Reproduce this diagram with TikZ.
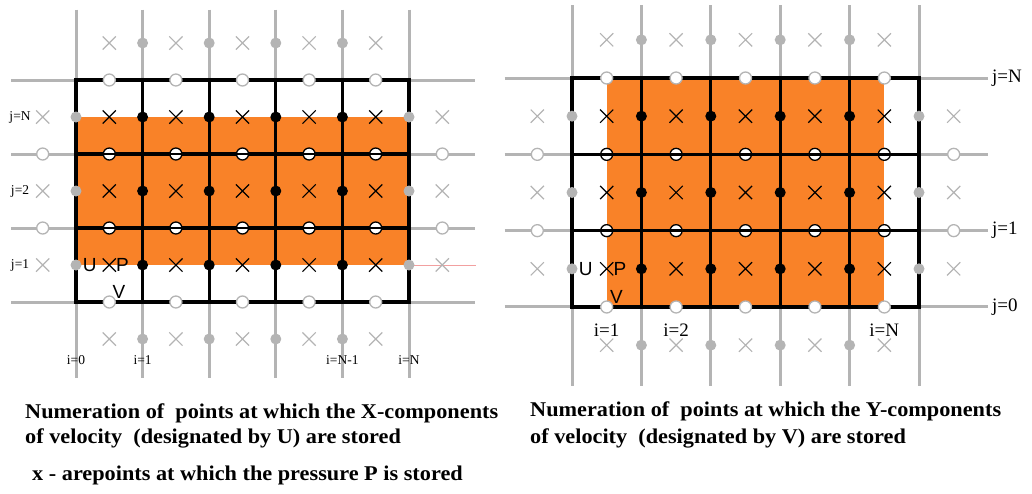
\documentclass[tikz,border=0pt]{standalone}
\usepackage{fontspec}
\setmainfont{Liberation Serif}
\newfontfamily\letterfont{Liberation Sans}
\newfontfamily\captionfont[FakeStretch=1.06]{Liberation Serif}
\usetikzlibrary{shapes.misc, positioning}
\definecolor{meshgray}{HTML}{B4B4B4}
\definecolor{cellorange}{HTML}{F98228}
\definecolor{faintred}{HTML}{F2A0A0}
\tikzset{
  meshline/.style={meshgray, line width=3pt},
  wallline/.style={black, line width=3.3pt},
  pcross/.style={cross out, draw=#1, line width=1.2pt, minimum size=12pt, inner sep=0pt},
  udot/.style={circle, fill=#1, inner sep=0pt, minimum size=11pt},
  vring/.style={circle, draw=meshgray, fill=white, line width=1.3pt,
                inner sep=0pt, minimum size=12pt},
  vringdark/.style={vring, draw=black,
                path picture={\draw[line width=2.8pt]
                  (path picture bounding box.west) -- (path picture bounding box.east);}},
  letter/.style={font=\letterfont\fontsize{19}{21}\selectfont, inner sep=0pt},
  caption/.style={font=\captionfont\fontsize{21}{25}\selectfont\bfseries, inner sep=0pt, anchor=base west},
}
% staggered mesh, the same for both pictures; #1 is the prefix of the node names
\newcommand{\stagmesh}[1]{%
  \foreach \k in {0,...,5} \draw[meshline] (\k,-0.95) -- (\k,4.03);
  \foreach \k in {0,...,3} \draw[meshline] (-0.97,\k) -- (5.99,\k);
  \draw[wallline] (0,0) rectangle (5,3);
  \foreach \k in {1,...,4} \draw[wallline] (\k,0) -- (\k,3);
  \foreach \k in {1,2} \draw[wallline] (0,\k) -- (5,\k);
  % U points
  \foreach \i in {1,...,4} \foreach \j in {1,2,3}
    \node[udot=black] (#1u\i\j) at (\i,\j-0.5) {};
  \foreach \i in {1,...,4} \foreach \j in {0,4}
    \node[udot=meshgray] (#1u\i\j) at (\i,\j-0.5) {};
  \foreach \i in {0,5} \foreach \j in {1,2,3}
    \node[udot=meshgray] (#1u\i\j) at (\i,\j-0.5) {};
  % P points
  \foreach \c in {1,...,5} \foreach \r in {1,2,3}
    \node[pcross=black] (#1p\c\r) at (\c-0.5,\r-0.5) {};
  \foreach \c in {1,...,5} \foreach \r in {0,4}
    \node[pcross=meshgray] (#1p\c\r) at (\c-0.5,\r-0.5) {};
  \foreach \c in {0,6} \foreach \r in {1,2,3}
    \node[pcross=meshgray] (#1p\c\r) at (\c-0.5,\r-0.5) {};
  % V points
  \foreach \c in {1,...,5} \foreach \j in {1,2}
    \node[vringdark] (#1v\c\j) at (\c-0.5,\j) {};
  \foreach \c in {1,...,5} \foreach \j in {0,3}
    \node[vring] (#1v\c\j) at (\c-0.5,\j) {};
  \foreach \c in {0,6} \foreach \j in {1,2}
    \node[vring] (#1v\c\j) at (\c-0.5,\j) {};
  % one cell named
  \node[letter, right=1pt of #1u03] (#1U) {U};
  \node[letter, right=0pt of #1p13] (#1P) {P};
  \node[letter, anchor=south west] (#1V) at ([xshift=-1.5pt, yshift=-1.5pt]#1v13.north east) {V};
}

\begin{document}
\begin{tikzpicture}[x=1pt, y=-1pt]
  \useasboundingbox (0,0) rectangle (1032,493);
  % X-components
  \begin{scope}[shift={(76,80)}, x=66.6pt, y=-74pt,
      idx/.style={font=\fontsize{13.5}{15}\selectfont, inner sep=0pt}]
    \fill[cellorange] (0,0.5) rectangle (5,2.5);
    \draw[faintred, line width=0.8pt] (5,2.5) -- (6,2.5);
    \stagmesh{l}
    \foreach \i/\t [count=\n] in {0/i=0, 1/i=1, 4/i=N-1, 5/i=N}
      \node[idx] (li\n) at (\i,3.78) {\t};
    \foreach \r/\t [count=\n] in {0.5/j=N, 1.5/j=2, 2.5/j=1}
      \node[idx] (lj\n) at (-0.84,\r) {\t};
  \end{scope}
  % Y-components
  \begin{scope}[shift={(572,78)}, x=69.4pt, y=-76.33pt,
      idx/.style={font=\fontsize{19}{21}\selectfont, inner sep=0pt}]
    \fill[cellorange] (0.5,0) rectangle (4.5,3);
    \stagmesh{r}
    \foreach \c/\t [count=\n] in {0.5/i=1, 1.5/i=2, 4.5/i=N}
      \node[idx] (ri\n) at (\c,3.3) {\t};
    \foreach \r/\t [count=\n] in {0/j=N, 2/j=1, 3/j=0}
      \node[idx, anchor=west] (rj\n) at (6.05,\r) {\t};
  \end{scope}
  \node[caption] (ucap1) at (25,418) {Numeration of\ \ points at which the X-components};
  \node[caption] (ucap2) at (25,443) {of velocity\ \ (designated by U) are stored};
  \node[caption] (pcap) at (32,480) {x - arepoints at which the pressure P is stored};
  \node[caption] (vcap1) at (530,416) {Numeration of\ \ points at which the Y-components};
  \node[caption] (vcap2) at (530,443) {of velocity\ \ (designated by V) are stored};
\end{tikzpicture}
\end{document}
